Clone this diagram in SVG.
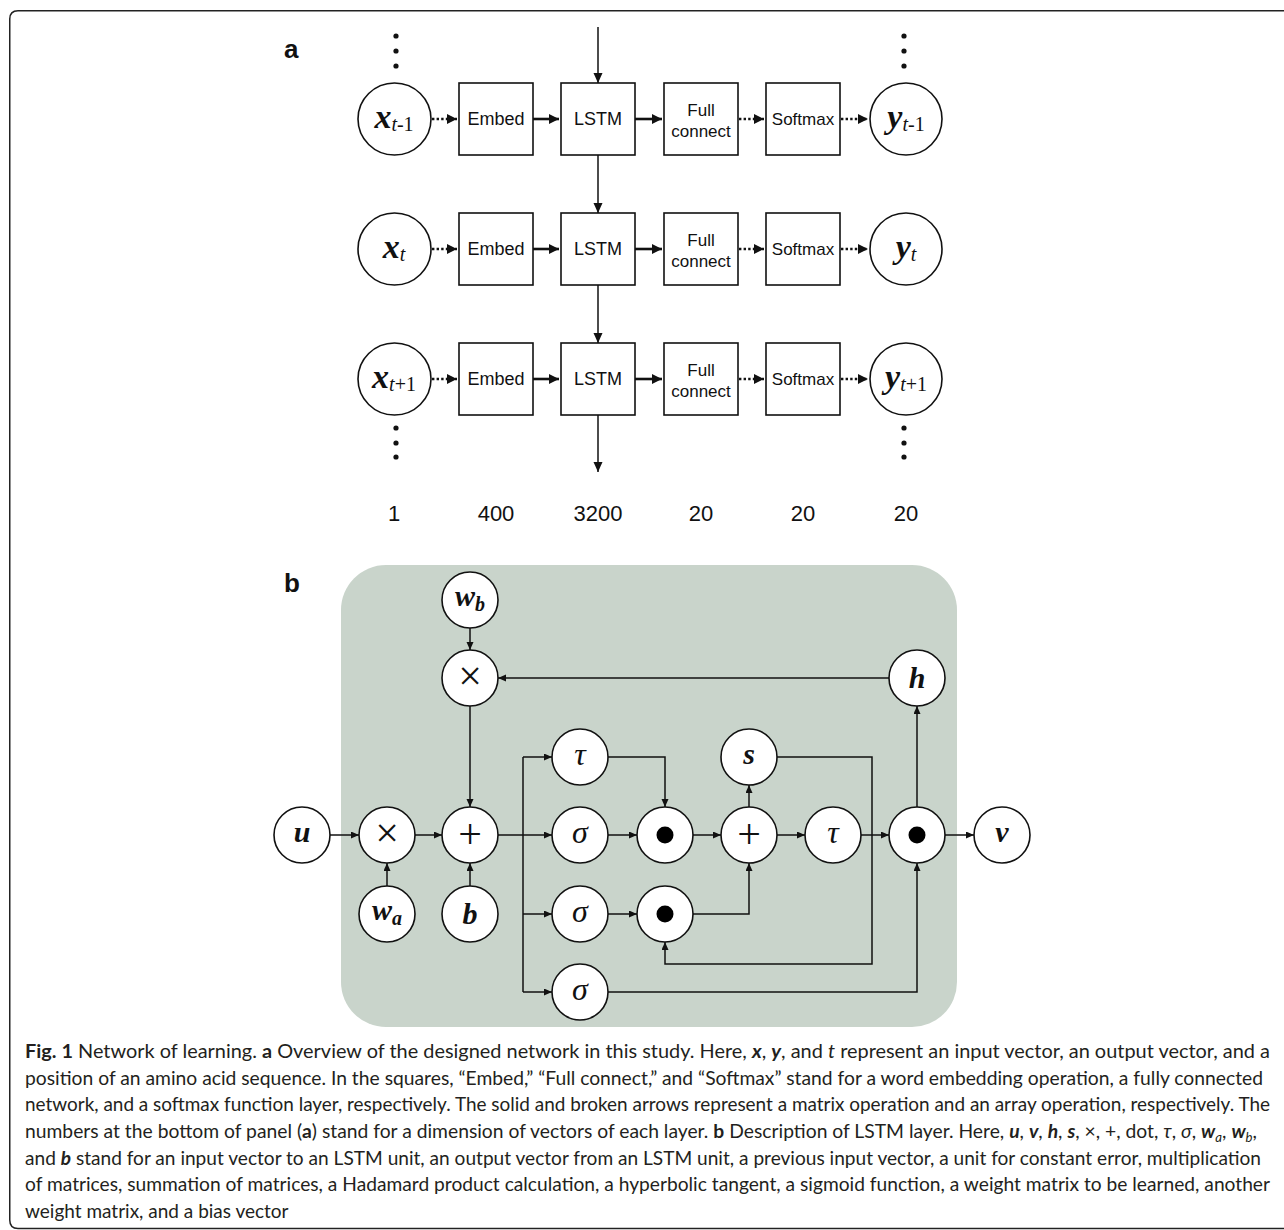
<svg xmlns="http://www.w3.org/2000/svg" width="1284" height="1230" viewBox="0 0 1284 1230">
<style>
.frame{fill:none;stroke:#222;stroke-width:1.5}
.box{fill:#fff;stroke:#111;stroke-width:1.6}
.nd{fill:#fff;stroke:#111;stroke-width:1.6}
.bl{font-family:"Liberation Sans",Arial,sans-serif;font-size:18px;fill:#111;text-anchor:middle}
.bl2{font-family:"Liberation Sans",Arial,sans-serif;font-size:17px;fill:#111;text-anchor:middle}
.num{font-family:"Liberation Sans",Arial,sans-serif;font-size:22px;fill:#111;text-anchor:middle}
.pl{font-family:"Liberation Sans",Arial,sans-serif;font-size:26px;font-weight:bold;fill:#111}
.va{font-family:"Liberation Serif","Times New Roman",serif;fill:#111;text-anchor:middle}
.vb{font-weight:bold;font-style:italic;font-size:34px}
.vbb{font-weight:bold;font-style:italic;font-size:30px}
.si{font-style:italic;font-size:20px}
.sr{font-size:20px}
.sbi{font-weight:bold;font-style:italic;font-size:20px}
.gr{font-style:italic;font-size:32px}
.op{font-size:42px}
.solid{stroke:#111;stroke-width:2.6;fill:none}
.dotted{stroke:#111;stroke-width:2.4;fill:none;stroke-dasharray:2.4 2.2}
.thin{stroke:#111;stroke-width:1.5;fill:none}
.cn{stroke:#111;stroke-width:1.5;fill:none}
.cap{font-family:Lato,"Open Sans",sans-serif;font-size:19px;fill:#231f20}
.cb{font-weight:bold}
.ci{font-style:italic}
.cbi{font-weight:bold;font-style:italic}
</style>
<defs>
<marker id="ah" markerUnits="userSpaceOnUse" markerWidth="11" markerHeight="11" refX="10" refY="5" orient="auto"><path d="M0,0 L10,5 L0,10 z" fill="#111"/></marker>
<marker id="av" markerUnits="userSpaceOnUse" markerWidth="10" markerHeight="10" refX="10" refY="4.5" orient="auto"><path d="M0,0 L10,4.5 L0,9 z" fill="#111"/></marker>
<marker id="as" markerUnits="userSpaceOnUse" markerWidth="9" markerHeight="8" refX="8" refY="3.5" orient="auto"><path d="M0,0 L8,3.5 L0,7 z" fill="#111"/></marker>
</defs>

<rect width="1284" height="1230" fill="#fff"/>
<path class="frame" d="M1290,10.75 H18 Q9.75,10.75 9.75,19 V1220 Q9.75,1228.5 18,1228.5 H1290"/>

<text class="pl" x="284" y="58">a</text>
<text class="pl" x="284" y="592">b</text>

<!-- Panel a -->
<g id="dots">
<circle cx="396" cy="36" r="2.6" fill="#111"/><circle cx="396" cy="51" r="2.6" fill="#111"/><circle cx="396" cy="66" r="2.6" fill="#111"/>
<circle cx="904" cy="36" r="2.6" fill="#111"/><circle cx="904" cy="51" r="2.6" fill="#111"/><circle cx="904" cy="66" r="2.6" fill="#111"/>
<circle cx="396" cy="428" r="2.6" fill="#111"/><circle cx="396" cy="443" r="2.6" fill="#111"/><circle cx="396" cy="457" r="2.6" fill="#111"/>
<circle cx="904" cy="428" r="2.6" fill="#111"/><circle cx="904" cy="443" r="2.6" fill="#111"/><circle cx="904" cy="457" r="2.6" fill="#111"/>
</g>

<g id="x1"><ellipse class="nd" cx="394.5" cy="119" rx="36.5" ry="36"/><text class="va" x="394" y="128"><tspan class="vb">x</tspan><tspan class="si" dy="3">t</tspan><tspan class="sr">-1</tspan></text></g>
<g id="x2"><ellipse class="nd" cx="394.5" cy="249" rx="36.5" ry="36"/><text class="va" x="394" y="258"><tspan class="vb">x</tspan><tspan class="si" dy="3">t</tspan></text></g>
<g id="x3"><ellipse class="nd" cx="394.5" cy="379" rx="36.5" ry="36"/><text class="va" x="394" y="388"><tspan class="vb">x</tspan><tspan class="si" dy="3">t</tspan><tspan class="sr">+1</tspan></text></g>

<g id="embed1"><rect class="box" x="459" y="83" width="74" height="72"/><text class="bl" x="496" y="125">Embed</text></g>
<g id="embed2"><rect class="box" x="459" y="213" width="74" height="72"/><text class="bl" x="496" y="255">Embed</text></g>
<g id="embed3"><rect class="box" x="459" y="343" width="74" height="72"/><text class="bl" x="496" y="385">Embed</text></g>

<g id="lstm1"><rect class="box" x="561" y="83" width="74" height="72"/><text class="bl" x="598" y="125">LSTM</text></g>
<g id="lstm2"><rect class="box" x="561" y="213" width="74" height="72"/><text class="bl" x="598" y="255">LSTM</text></g>
<g id="lstm3"><rect class="box" x="561" y="343" width="74" height="72"/><text class="bl" x="598" y="385">LSTM</text></g>

<g id="fc1"><rect class="box" x="664" y="83" width="74" height="72"/><text class="bl2" x="701" y="116">Full</text><text class="bl2" x="701" y="137">connect</text></g>
<g id="fc2"><rect class="box" x="664" y="213" width="74" height="72"/><text class="bl2" x="701" y="246">Full</text><text class="bl2" x="701" y="267">connect</text></g>
<g id="fc3"><rect class="box" x="664" y="343" width="74" height="72"/><text class="bl2" x="701" y="376">Full</text><text class="bl2" x="701" y="397">connect</text></g>

<g id="sm1"><rect class="box" x="766" y="83" width="74" height="72"/><text class="bl2" x="803" y="125">Softmax</text></g>
<g id="sm2"><rect class="box" x="766" y="213" width="74" height="72"/><text class="bl2" x="803" y="255">Softmax</text></g>
<g id="sm3"><rect class="box" x="766" y="343" width="74" height="72"/><text class="bl2" x="803" y="385">Softmax</text></g>

<g id="y1"><ellipse class="nd" cx="906" cy="119" rx="36" ry="36"/><text class="va" x="906" y="128"><tspan class="vb">y</tspan><tspan class="si" dy="3">t</tspan><tspan class="sr">-1</tspan></text></g>
<g id="y2"><ellipse class="nd" cx="906" cy="249" rx="36" ry="36"/><text class="va" x="906" y="258"><tspan class="vb">y</tspan><tspan class="si" dy="3">t</tspan></text></g>
<g id="y3"><ellipse class="nd" cx="906" cy="379" rx="36" ry="36"/><text class="va" x="906" y="388"><tspan class="vb">y</tspan><tspan class="si" dy="3">t</tspan><tspan class="sr">+1</tspan></text></g>

<g id="nums">
<text class="num" x="394" y="521">1</text>
<text class="num" x="496" y="521">400</text>
<text class="num" x="598" y="521">3200</text>
<text class="num" x="701" y="521">20</text>
<text class="num" x="803" y="521">20</text>
<text class="num" x="906" y="521">20</text>
</g>

<g id="connectors-a">
<line class="thin" x1="598" y1="27" x2="598" y2="83" marker-end="url(#av)"/>
<line class="thin" x1="598" y1="155" x2="598" y2="213" marker-end="url(#av)"/>
<line class="thin" x1="598" y1="285" x2="598" y2="343" marker-end="url(#av)"/>
<line class="thin" x1="598" y1="415" x2="598" y2="472" marker-end="url(#av)"/>
<line class="dotted" x1="432" y1="119" x2="457" y2="119" marker-end="url(#ah)"/>
<line class="solid" x1="533" y1="119" x2="559" y2="119" marker-end="url(#ah)"/>
<line class="solid" x1="635" y1="119" x2="662" y2="119" marker-end="url(#ah)"/>
<line class="dotted" x1="739" y1="119" x2="764" y2="119" marker-end="url(#ah)"/>
<line class="dotted" x1="841" y1="119" x2="868" y2="119" marker-end="url(#ah)"/>
<line class="dotted" x1="432" y1="249" x2="457" y2="249" marker-end="url(#ah)"/>
<line class="solid" x1="533" y1="249" x2="559" y2="249" marker-end="url(#ah)"/>
<line class="solid" x1="635" y1="249" x2="662" y2="249" marker-end="url(#ah)"/>
<line class="dotted" x1="739" y1="249" x2="764" y2="249" marker-end="url(#ah)"/>
<line class="dotted" x1="841" y1="249" x2="868" y2="249" marker-end="url(#ah)"/>
<line class="dotted" x1="432" y1="379" x2="457" y2="379" marker-end="url(#ah)"/>
<line class="solid" x1="533" y1="379" x2="559" y2="379" marker-end="url(#ah)"/>
<line class="solid" x1="635" y1="379" x2="662" y2="379" marker-end="url(#ah)"/>
<line class="dotted" x1="739" y1="379" x2="764" y2="379" marker-end="url(#ah)"/>
<line class="dotted" x1="841" y1="379" x2="868" y2="379" marker-end="url(#ah)"/>
</g>

<!-- Panel b -->
<rect id="lstm-bg" x="341" y="565" width="616" height="462" rx="45" ry="45" fill="#c9d4cb"/>

<g id="connectors-b">
<line class="cn" x1="470" y1="628" x2="470" y2="650" marker-end="url(#as)"/>
<line class="cn" x1="889" y1="678" x2="498" y2="678" marker-end="url(#as)"/>
<line class="cn" x1="470" y1="706" x2="470" y2="807" marker-end="url(#as)"/>
<line class="cn" x1="330" y1="835" x2="359" y2="835" marker-end="url(#as)"/>
<line class="cn" x1="415" y1="835" x2="442" y2="835" marker-end="url(#as)"/>
<line class="cn" x1="387" y1="886" x2="387" y2="863" marker-end="url(#as)"/>
<line class="cn" x1="470" y1="886" x2="470" y2="863" marker-end="url(#as)"/>
<line class="cn" x1="498" y1="835" x2="552" y2="835" marker-end="url(#as)"/>
<path class="cn" d="M523,757 V992"/>
<line class="cn" x1="523" y1="757" x2="552" y2="757" marker-end="url(#as)"/>
<line class="cn" x1="523" y1="914" x2="552" y2="914" marker-end="url(#as)"/>
<line class="cn" x1="523" y1="992" x2="552" y2="992" marker-end="url(#as)"/>
<path class="cn" d="M608,757 H665 V807" marker-end="url(#as)"/>
<line class="cn" x1="608" y1="835" x2="637" y2="835" marker-end="url(#as)"/>
<line class="cn" x1="693" y1="835" x2="721" y2="835" marker-end="url(#as)"/>
<line class="cn" x1="608" y1="914" x2="637" y2="914" marker-end="url(#as)"/>
<path class="cn" d="M693,914 H749 V863" marker-end="url(#as)"/>
<line class="cn" x1="749" y1="807" x2="749" y2="785" marker-end="url(#as)"/>
<line class="cn" x1="777" y1="835" x2="805" y2="835" marker-end="url(#as)"/>
<path class="cn" d="M777,757 H872 V964 H665 V942" marker-end="url(#as)"/>
<line class="cn" x1="861" y1="835" x2="889" y2="835" marker-end="url(#as)"/>
<path class="cn" d="M608,992 H917 V863" marker-end="url(#as)"/>
<line class="cn" x1="917" y1="807" x2="917" y2="706" marker-end="url(#as)"/>
<line class="cn" x1="945" y1="835" x2="974" y2="835" marker-end="url(#as)"/>
</g>

<g id="u"><circle class="nd" cx="302" cy="835" r="28"/><text class="va" x="302" y="842"><tspan class="vbb">u</tspan></text></g>
<g id="mul1"><circle class="nd" cx="387" cy="835" r="28"/><text class="va" x="387" y="847"><tspan class="op">×</tspan></text></g>
<g id="wa"><circle class="nd" cx="387" cy="914" r="28"/><text class="va" x="387" y="920"><tspan class="vbb">w</tspan><tspan class="sbi" dy="5">a</tspan></text></g>
<g id="add1"><circle class="nd" cx="470" cy="835" r="28"/><text class="va" x="470" y="848"><tspan class="op">+</tspan></text></g>
<g id="b"><circle class="nd" cx="470" cy="914" r="28"/><text class="va" x="470" y="924"><tspan class="vbb">b</tspan></text></g>
<g id="wb"><circle class="nd" cx="470" cy="600" r="28"/><text class="va" x="470" y="606"><tspan class="vbb">w</tspan><tspan class="sbi" dy="5">b</tspan></text></g>
<g id="mul2"><circle class="nd" cx="470" cy="678" r="28"/><text class="va" x="470" y="690"><tspan class="op">×</tspan></text></g>
<g id="h"><circle class="nd" cx="917" cy="678" r="28"/><text class="va" x="917" y="688"><tspan class="vbb">h</tspan></text></g>
<g id="tau1"><circle class="nd" cx="580" cy="757" r="28"/><text class="va" x="580" y="765"><tspan class="gr">τ</tspan></text></g>
<g id="sig1"><circle class="nd" cx="580" cy="835" r="28"/><text class="va" x="580" y="843"><tspan class="gr">σ</tspan></text></g>
<g id="sig2"><circle class="nd" cx="580" cy="914" r="28"/><text class="va" x="580" y="922"><tspan class="gr">σ</tspan></text></g>
<g id="sig3"><circle class="nd" cx="580" cy="992" r="28"/><text class="va" x="580" y="1000"><tspan class="gr">σ</tspan></text></g>
<g id="dot1"><circle class="nd" cx="665" cy="835" r="28"/><circle cx="665" cy="835" r="8.5" fill="#000"/></g>
<g id="dot2"><circle class="nd" cx="665" cy="914" r="28"/><circle cx="665" cy="914" r="8.5" fill="#000"/></g>
<g id="add2"><circle class="nd" cx="749" cy="835" r="28"/><text class="va" x="749" y="848"><tspan class="op">+</tspan></text></g>
<g id="s"><circle class="nd" cx="749" cy="757" r="28"/><text class="va" x="749" y="764"><tspan class="vbb">s</tspan></text></g>
<g id="tau2"><circle class="nd" cx="833" cy="835" r="28"/><text class="va" x="833" y="843"><tspan class="gr">τ</tspan></text></g>
<g id="dot3"><circle class="nd" cx="917" cy="835" r="28"/><circle cx="917" cy="835" r="8.5" fill="#000"/></g>
<g id="v"><circle class="nd" cx="1002" cy="835" r="28"/><text class="va" x="1002" y="842"><tspan class="vbb">v</tspan></text></g>

<!-- Caption -->
<g id="caption">
<text class="cap" x="25" y="1058" textLength="1245" lengthAdjust="spacingAndGlyphs"><tspan class="cb">Fig. 1</tspan> Network of learning. <tspan class="cb">a</tspan> Overview of the designed network in this study. Here, <tspan class="cbi">x</tspan>, <tspan class="cbi">y</tspan>, and <tspan class="ci">t</tspan> represent an input vector, an output vector, and a</text>
<text class="cap" x="25" y="1085" textLength="1238" lengthAdjust="spacingAndGlyphs">position of an amino acid sequence. In the squares, “Embed,” “Full connect,” and “Softmax” stand for a word embedding operation, a fully connected</text>
<text class="cap" x="25" y="1111" textLength="1245" lengthAdjust="spacingAndGlyphs">network, and a softmax function layer, respectively. The solid and broken arrows represent a matrix operation and an array operation, respectively. The</text>
<text class="cap" x="25" y="1138" textLength="1232" lengthAdjust="spacingAndGlyphs">numbers at the bottom of panel (<tspan class="cb">a</tspan>) stand for a dimension of vectors of each layer. <tspan class="cb">b</tspan> Description of LSTM layer. Here, <tspan class="cbi">u</tspan>, <tspan class="cbi">v</tspan>, <tspan class="cbi">h</tspan>, <tspan class="cbi">s</tspan>, ×, +, dot, <tspan class="ci">τ</tspan>, <tspan class="ci">σ</tspan>, <tspan class="cbi">w</tspan><tspan class="ci" font-size="13" dy="4">a</tspan><tspan dy="-4">, </tspan><tspan class="cbi">w</tspan><tspan class="ci" font-size="13" dy="4">b</tspan><tspan dy="-4">,</tspan></text>
<text class="cap" x="25" y="1165" textLength="1236" lengthAdjust="spacingAndGlyphs">and <tspan class="cbi">b</tspan> stand for an input vector to an LSTM unit, an output vector from an LSTM unit, a previous input vector, a unit for constant error, multiplication</text>
<text class="cap" x="25" y="1191" textLength="1245" lengthAdjust="spacingAndGlyphs">of matrices, summation of matrices, a Hadamard product calculation, a hyperbolic tangent, a sigmoid function, a weight matrix to be learned, another</text>
<text class="cap" x="25" y="1218">weight matrix, and a bias vector</text>
</g>
</svg>
